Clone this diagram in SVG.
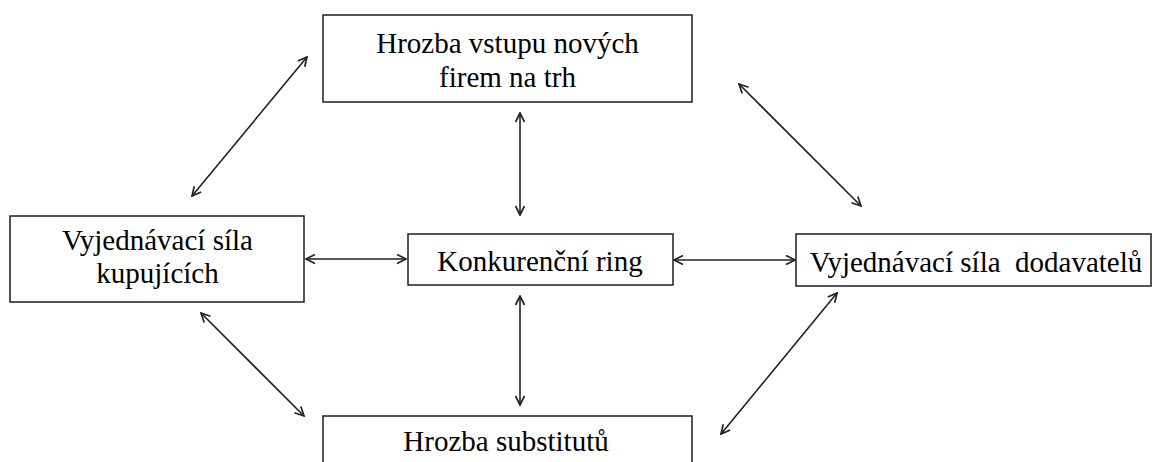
<svg xmlns="http://www.w3.org/2000/svg" width="1155" height="462" viewBox="0 0 1155 462">
<style>
.box{fill:#fff;stroke:#1e1e1e;stroke-width:1.5}
.t{font-family:"Liberation Serif","Times New Roman",serif;font-size:29px;fill:#000;text-anchor:middle;white-space:pre}
.c{fill:none;stroke:#222;stroke-width:1.6;marker-start:url(#ah);marker-end:url(#ah)}
</style>
<defs>
<marker id="ah" viewBox="0 0 11 11" refX="10" refY="5.5" markerWidth="11" markerHeight="11" orient="auto-start-reverse" markerUnits="userSpaceOnUse">
<path d="M1,1 L10,5.5 L1,10" fill="none" stroke="#222" stroke-width="1.7"/>
</marker>
</defs>
<g id="connectors">
<line class="c" x1="520" y1="113" x2="520" y2="215"/>
<line class="c" x1="520" y1="296" x2="520" y2="405"/>
<line class="c" x1="306" y1="259" x2="406" y2="259"/>
<line class="c" x1="674" y1="260" x2="795" y2="260"/>
<line class="c" x1="192" y1="196" x2="307" y2="57"/>
<line class="c" x1="739" y1="84" x2="861" y2="206"/>
<line class="c" x1="201" y1="313" x2="304" y2="416"/>
<line class="c" x1="837" y1="293" x2="721" y2="434"/>
</g>
<g id="node-top">
<rect class="box" x="323" y="15" width="369" height="87"/>
<text class="t" x="507.5" y="53">Hrozba vstupu nových</text>
<text class="t" x="507.5" y="87">firem na trh</text>
</g>
<g id="node-left">
<rect class="box" x="10" y="216" width="294" height="86"/>
<text class="t" x="157.5" y="250">Vyjednávací síla</text>
<text class="t" x="157.5" y="283">kupujících</text>
</g>
<g id="node-center">
<rect class="box" x="408" y="234" width="265" height="51"/>
<text class="t" x="540" y="271">Konkurenční ring</text>
</g>
<g id="node-right">
<rect class="box" x="796" y="234" width="355" height="52"/>
<text class="t" x="976" y="272">Vyjednávací síla  dodavatelů</text>
</g>
<g id="node-bottom">
<rect class="box" x="323" y="416" width="369" height="60"/>
<text class="t" x="506" y="451">Hrozba substitutů</text>
</g>
</svg>
